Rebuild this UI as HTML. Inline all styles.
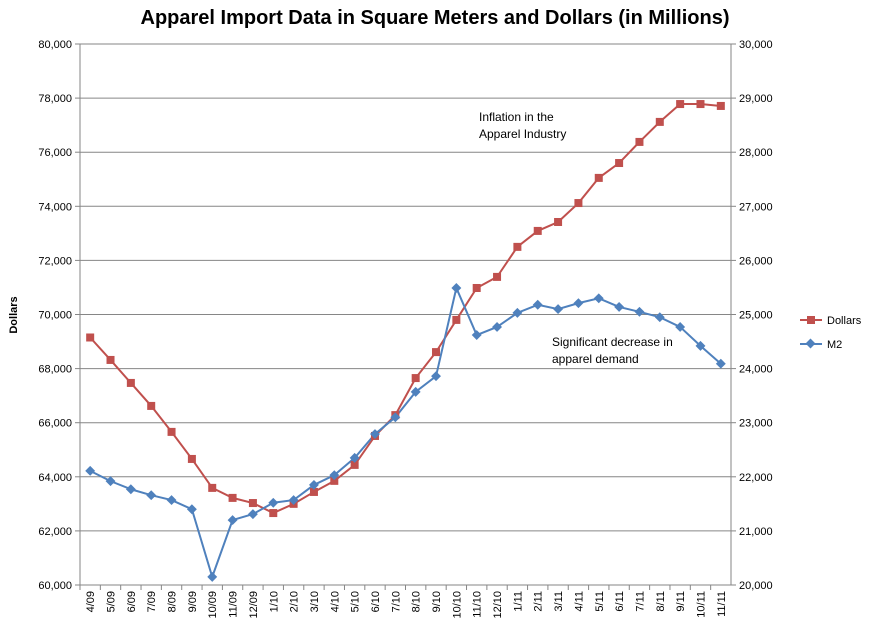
<!DOCTYPE html>
<html><head><meta charset="utf-8"><style>
body{margin:0;background:#fff;font-family:"Liberation Sans",sans-serif}
svg text{font-family:"Liberation Sans",sans-serif}
</style></head><body>
<svg id="chart" width="870" height="629" viewBox="0 0 870 629" xmlns="http://www.w3.org/2000/svg">
<text x="435" y="24" text-anchor="middle" font-size="20" font-weight="bold" fill="#000">Apparel Import Data in Square Meters and Dollars (in Millions)</text>
<g id="grid"></g>
<g id="axes"></g>
<g id="series"></g>
<text transform="translate(17,315) rotate(-90)" text-anchor="middle" font-size="11" font-weight="bold">Dollars</text>
<text x="479" y="121" font-size="12">Inflation in the</text>
<text x="479" y="138" font-size="12">Apparel Industry</text>
<text x="552" y="346" font-size="12">Significant  decrease in</text>
<text x="552" y="363" font-size="12">apparel demand</text>
<g>
<g><line x1="800" y1="320" x2="822" y2="320" stroke="#c0504d" stroke-width="2"/><rect x="807" y="316" width="8" height="8" fill="#c0504d"/><text x="827" y="324" font-size="11">Dollars</text></g>
<g><line x1="800" y1="344" x2="822" y2="344" stroke="#4f81bd" stroke-width="2"/><rect x="807" y="340" width="7" height="7" fill="#4f81bd" transform="rotate(45 810.5 343.5)"/><text x="827" y="348" font-size="11">M2</text></g>
</g>
</svg>
<script>
const categories=["4/09","5/09","6/09","7/09","8/09","9/09","10/09","11/09","12/09","1/10","2/10","3/10","4/10","5/10","6/10","7/10","8/10","9/10","10/10","11/10","12/10","1/11","2/11","3/11","4/11","5/11","6/11","7/11","8/11","9/11","10/11","11/11"];
const dollars=[69150,68320,67470,66620,65660,64660,63590,63220,63030,62660,63000,63440,63850,64440,65510,66280,67650,68610,69800,70980,71390,72500,73090,73420,74120,75050,75600,76380,77120,77780,77780,77710];
const m2=[22110,21920,21770,21660,21570,21400,20150,21200,21310,21520,21570,21850,22030,22350,22790,23100,23570,23860,25490,24620,24770,25030,25180,25100,25210,25300,25140,25050,24950,24770,24420,24090];
const leftTicks=[60000,62000,64000,66000,68000,70000,72000,74000,76000,78000,80000];
const rightTicks=[20000,21000,22000,23000,24000,25000,26000,27000,28000,29000,30000];
const L=80,R=731,T=44,B=585;
const yL=v=>B-(v-60000)/20000*(B-T);
const yR=v=>B-(v-20000)/10000*(B-T);
const step=(R-L)/categories.length;
const x=i=>L+step*(i+0.5);
const NS="http://www.w3.org/2000/svg";
function mk(tag,attrs,parent,text){const e=document.createElementNS(NS,tag);for(const k in attrs)e.setAttribute(k,attrs[k]);if(text!==undefined)e.textContent=text;parent.appendChild(e);return e;}
const grid=document.getElementById('grid'),axes=document.getElementById('axes'),ser=document.getElementById('series');
leftTicks.forEach((t,i)=>{const y=yL(t);
 if(i>0){const g=mk('line',{x1:L,x2:R,y1:y,y2:y,stroke:'#868686','stroke-width':1},grid);
 
 }
 const lt=mk('text',{x:L-8,y:y+4,'text-anchor':'end','font-size':11},axes,t.toLocaleString('en-US'));
 
 
 mk('line',{x1:L-5,x2:L,y1:y,y2:y,stroke:'#868686'},axes);
});
rightTicks.forEach(t=>{const y=yR(t);
 const rt=mk('text',{x:R+8,y:y+4,'font-size':11},axes,t.toLocaleString('en-US'));
 
 
 mk('line',{x1:R,x2:R+5,y1:y,y2:y,stroke:'#868686'},axes);
});
mk('line',{x1:L,x2:L,y1:T,y2:B,stroke:'#868686'},axes);
mk('line',{x1:R,x2:R,y1:T,y2:B,stroke:'#868686'},axes);
mk('line',{x1:L,x2:R,y1:B,y2:B,stroke:'#868686'},axes);
categories.forEach((c,i)=>{
 mk('line',{x1:L+step*i,x2:L+step*i,y1:B,y2:B+5,stroke:'#868686'},axes);
 const t=mk('text',{transform:`translate(${x(i)+4},${B+6}) rotate(-90)`,'text-anchor':'end','font-size':11},axes,c);
 
 
});
const dp=mk('polyline',{points:dollars.map((v,i)=>x(i)+','+yL(v)).join(' '),fill:'none',stroke:'#c0504d','stroke-width':2},ser);


const mp=mk('polyline',{points:m2.map((v,i)=>x(i)+','+yR(v)).join(' '),fill:'none',stroke:'#4f81bd','stroke-width':2},ser);


dollars.forEach((v,i)=>{const r=mk('rect',{x:x(i)-4,y:yL(v)-4,width:8,height:8,fill:'#c0504d'},ser);
 
 });
m2.forEach((v,i)=>{const cx=x(i),cy=yR(v);const r=mk('rect',{x:cx-3.5,y:cy-3.5,width:7,height:7,fill:'#4f81bd',transform:`rotate(45 ${cx} ${cy})`},ser);
 
 });
</script>
</body></html>
